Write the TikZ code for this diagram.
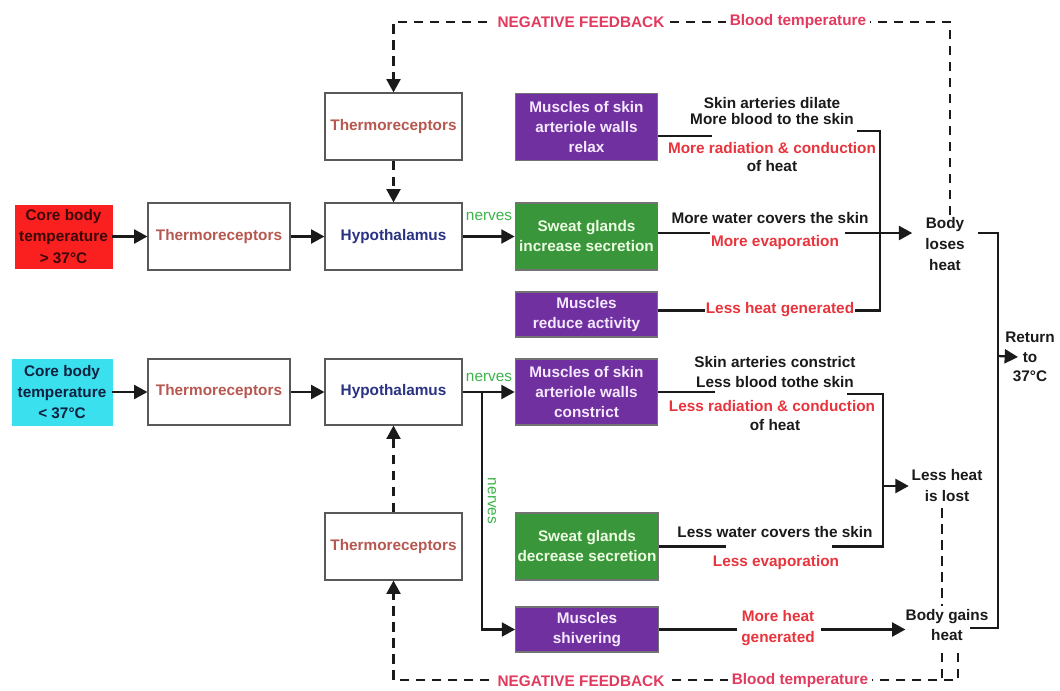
\documentclass[tikz,border=0pt]{standalone}
\usepackage{fontspec}
\setmainfont{Liberation Sans}
\usetikzlibrary{arrows.meta,calc}
\definecolor{cRed}{RGB}{250,32,32}
\definecolor{cCyan}{RGB}{58,224,238}
\definecolor{cPurple}{RGB}{112,48,160}
\definecolor{cGreen}{RGB}{58,150,58}
\definecolor{cPtext}{RGB}{245,232,255}
\definecolor{cGtext}{RGB}{236,252,226}
\definecolor{cThermo}{RGB}{182,88,80}
\definecolor{cHypo}{RGB}{42,50,132}
\definecolor{cRedText}{RGB}{232,52,60}
\definecolor{cFb}{RGB}{226,58,94}
\definecolor{cNerve}{RGB}{60,180,74}
\definecolor{cTxt}{RGB}{26,26,26}
\definecolor{cCoreTxt}{RGB}{60,8,8}
\definecolor{cCoreTxtB}{RGB}{16,32,64}
\begin{document}
\begin{tikzpicture}[x=0.75pt,y=-0.75pt,
  every node/.style={font=\fontsize{11.5}{15}\selectfont\bfseries,align=center,inner sep=0pt},
  wbox/.style={draw=black!65,line width=0.9pt,fill=white,minimum height=50.25pt},
  thermobox/.style={wbox,text=cThermo,minimum width=106.5pt},
  hypobox/.style={wbox,text=cHypo,minimum width=102.75pt},
  pbox/.style={draw=black!55,line width=0.8pt,fill=cPurple,text=cPtext,minimum width=107pt,minimum height=50.25pt},
  gbox/.style={draw=black!55,line width=0.8pt,fill=cGreen,text=cGtext,minimum width=107pt,minimum height=50.25pt},
  blacktxt/.style={text=cTxt},
  redtxt/.style={text=cRedText},
  fbtxt/.style={text=cFb,fill=white,inner xsep=3pt,inner ysep=2pt},
  nervetxt/.style={text=cNerve,font=\fontsize{11.5}{12}\selectfont},
  conn/.style={line width=1.7pt,draw=cTxt},
  arr/.style={conn,-{Triangle[length=10pt,width=10.5pt]}},
  fb/.style={line width=1.6pt,draw=cTxt,dash pattern=on 7pt off 5pt},
  fbarr/.style={fb,-{Triangle[length=10pt,width=10.5pt]}}
]
\fill[white] (0,0) rectangle (1060,690);
\useasboundingbox (0,0) rectangle (1060,690);

% ---------- upper row (hot) ----------
\node[draw=cRed,fill=cRed,text=cCoreTxt,minimum width=72.75pt,minimum height=47.25pt,font=\fontsize{11.5}{16}\selectfont\bfseries] (core1) at (63.5,236.5) {Core body\\temperature\\> 37°C};
\node[thermobox] (thermoA) at (219,236.5) {Thermoreceptors};
\node[hypobox] (hypoA) at (393.5,236.5) {Hypothalamus};
\node[thermobox,minimum width=102.75pt] (thermoTop) at (393.5,126.5) {Thermoreceptors};
\node[pbox] (musclesRelax) at (586.5,127) {Muscles of skin\\arteriole walls\\relax};
\node[gbox] (sweatInc) at (586.5,236.5) {Sweat glands\\increase secretion};
\node[pbox,minimum height=33.75pt] (musclesReduce) at (586.5,314.5) {Muscles\\reduce activity};

\node[nervetxt] (nervesA) at (489,216) {nerves};

\node[blacktxt,font=\fontsize{11.5}{12}\selectfont\bfseries] (tDilate) at (772,111) {Skin arteries dilate\\More blood to the skin};
\node[redtxt] (tRadA) at (772,148) {More radiation \& conduction};
\node[blacktxt] (tHeatA) at (772,166) {of heat};
\node[blacktxt] (tWaterA) at (770,218) {More water covers the skin};
\node[redtxt] (tEvapA) at (775,243) {More evaporation};
\node[redtxt] (tLessGen) at (780,310) {Less heat generated};

\node[blacktxt,minimum width=48.75pt,font=\fontsize{11.5}{15.75}\selectfont\bfseries] (bodyLoses) at (945,244) {Body\\loses\\heat};
\node[blacktxt,font=\fontsize{11.5}{14.5}\selectfont\bfseries] (returnTo) at (1030,357) {Return\\to\\37°C};

\draw[arr] (core1) -- (thermoA);
\draw[arr] (thermoA) -- (hypoA);
\draw[arr] (hypoA) -- (sweatInc);
\draw[fbarr] (thermoTop) -- (hypoA);

\draw[conn] ($(musclesRelax.east)+(0,9)$) -- (712,136);
\draw[conn] (857,131) -- (880,131) -- (880,310.5) -- (855,310.5);
\draw[conn] ($(musclesReduce.east)+(0,-4)$) -- (705,310.5);
\draw[conn] ($(sweatInc.east)+(0,-3.5)$) -- (710,233);
\draw[arr] (845,233) -- ($(bodyLoses.west)+(0,-11)$);

\coordinate (returnJ) at (998,356);
\draw[conn] ($(bodyLoses.east)+(0,-11)$) -| (returnJ);
\draw[arr] (returnJ) -- ($(returnTo.center)+(-12,0)$);

% top feedback
\coordinate (fbTop) at (950,22);
\draw[fbarr] ($(bodyLoses.north)+(5,-2)$) -- (fbTop) -| (thermoTop.north);
\node[fbtxt] (fbA1) at (581,22) {NEGATIVE FEEDBACK};
\node[fbtxt] (fbA2) at (798,22) {Blood temperature};

% ---------- lower row (cold) ----------
\node[draw=cCyan,fill=cCyan,text=cCoreTxtB,minimum width=75pt,minimum height=49.5pt,font=\fontsize{11.5}{16}\selectfont\bfseries] (core2) at (62,392) {Core body\\temperature\\< 37°C};
\node[thermobox,minimum height=49.5pt] (thermoB) at (219,392) {Thermoreceptors};
\node[hypobox,minimum height=49.5pt] (hypoB) at (393.5,392) {Hypothalamus};
\node[thermobox,minimum width=102.75pt] (thermoC) at (393.5,546.5) {Thermoreceptors};
\node[pbox,minimum height=49.5pt] (musclesConstrict) at (586.5,392) {Muscles of skin\\arteriole walls\\constrict};
\node[gbox] (sweatDec) at (587,546.5) {Sweat glands\\decrease secretion};
\node[pbox,minimum height=33.75pt] (musclesShiver) at (587,629.5) {Muscles\\shivering};

\node[nervetxt] (nervesB) at (489,377) {nerves};
\node[nervetxt,rotate=-90] (nervesC) at (492,501) {nerves};

\node[blacktxt,font=\fontsize{11.5}{15}\selectfont\bfseries] (tConstrict) at (775,372) {Skin arteries constrict\\Less blood tothe skin};
\node[redtxt] (tRadB) at (772,406) {Less radiation \& conduction};
\node[blacktxt] (tHeatB) at (775,425) {of heat};
\node[blacktxt] (tWaterB) at (775,532) {Less water covers the skin};
\node[redtxt] (tEvapB) at (776,563) {Less evaporation};
\node[redtxt,font=\fontsize{11.5}{15.75}\selectfont\bfseries] (tMoreGen) at (778,628) {More heat\\generated};

\node[blacktxt,minimum width=57pt,font=\fontsize{11.5}{15.75}\selectfont\bfseries] (lessHeat) at (947,486) {Less heat\\is lost};
\node[blacktxt,font=\fontsize{11.5}{15}\selectfont\bfseries] (bodyGains) at (947,625) {Body gains\\heat};

\draw[arr] (core2) -- (thermoB);
\draw[arr] (thermoB) -- (hypoB);
\draw[arr] (hypoB) -- (musclesConstrict);
\coordinate (nb) at (482,392);
\draw[arr] (nb) |- (musclesShiver.west);
\draw[fbarr] (thermoC) -- (hypoB);

\draw[conn] (musclesConstrict.east) -- (715,392);
\draw[conn] (847,394) -- (883,394) -- (883,546.5) -- (832,546.5);
\draw[conn] (sweatDec.east) -- (726,546.5);
\draw[arr] (883,486) -- (lessHeat.west);
\draw[conn] (musclesShiver.east) -- (737,629.5);
\draw[arr] (821,629.5) -- ($(bodyGains.west)+(0,4.5)$);
\draw[conn] ($(bodyGains.center)+(23,3)$) -| (returnJ);

% lower feedback
\draw[fb] ($(lessHeat.south)+(-5,6)$) -- ($(bodyGains.north)+(-5,-3)$);
\coordinate (fbBot) at (958,680);
\draw[fb] ($(bodyGains.center)+(-5,28)$) -- ($(bodyGains.center)+(-5,55)$);
\draw[fbarr] ($(bodyGains.center)+(11,28)$) -- (fbBot) -| (thermoC.south);
\node[fbtxt] (fbB1) at (581,681) {NEGATIVE FEEDBACK};
\node[fbtxt] (fbB2) at (800,681) {Blood temperature};
\end{tikzpicture}
\end{document}
